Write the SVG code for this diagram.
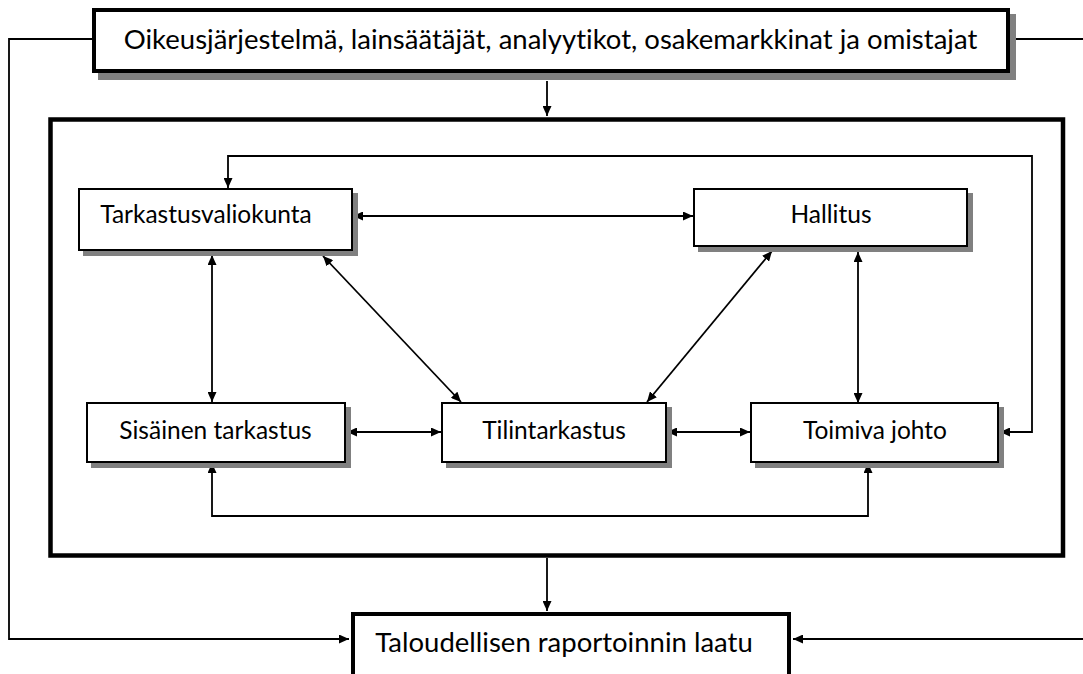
<svg xmlns="http://www.w3.org/2000/svg" width="1083" height="674" viewBox="0 0 1083 674">
<style>
text{font-family:Lato,"Liberation Sans",sans-serif;fill:#000;text-anchor:middle;font-variant-ligatures:none}
.big{font-size:27.5px}
.nd{font-size:24.5px}
.box{fill:#fff;stroke:#000;stroke-width:2}
.thick{fill:#fff;stroke:#000;stroke-width:4}
.shadow{fill:#808080}
.c{fill:none;stroke:#000;stroke-width:1.8}
</style>
<defs>
<marker id="ah" markerUnits="userSpaceOnUse" markerWidth="11" markerHeight="9" refX="10" refY="4.5" orient="auto-start-reverse">
<path d="M0,0 L10,4.5 L0,9 z" fill="#000"/>
</marker>
</defs>
<rect width="1083" height="674" fill="#fff"/>

<g id="connectors">
<path class="c" d="M92 39 H9 V639 H349" marker-end="url(#ah)"/>
<path class="c" d="M1010 39 H1088 V639 H793" marker-end="url(#ah)"/>
<path class="c" d="M547 81 V116" marker-end="url(#ah)"/>
<path class="c" d="M547 558 V611" marker-end="url(#ah)"/>
<path class="c" d="M228 188 V156 H1032 V432 H1000" marker-start="url(#ah)" marker-end="url(#ah)"/>
<path class="c" d="M353 216 H693" marker-start="url(#ah)" marker-end="url(#ah)"/>
<path class="c" d="M212 255 V402" marker-start="url(#ah)" marker-end="url(#ah)"/>
<path class="c" d="M323 256 L461 402" marker-start="url(#ah)" marker-end="url(#ah)"/>
<path class="c" d="M772 251 L647 402" marker-start="url(#ah)" marker-end="url(#ah)"/>
<path class="c" d="M858 252 V403" marker-start="url(#ah)" marker-end="url(#ah)"/>
<path class="c" d="M347 432 H441" marker-start="url(#ah)" marker-end="url(#ah)"/>
<path class="c" d="M667 432 H750" marker-start="url(#ah)" marker-end="url(#ah)"/>
<path class="c" d="M212 463 V516 H868 V463" marker-start="url(#ah)" marker-end="url(#ah)"/>
</g>

<g id="n-top">
<rect class="shadow" x="98" y="14" width="918" height="66"/>
<rect class="thick" x="94" y="10" width="914" height="61"/>
<text class="big" x="550.5" y="49">Oikeusjärjestelmä, lainsäätäjät, analyytikot, osakemarkkinat ja omistajat</text>
</g>

<g id="n-frame">
<rect x="50.5" y="119.5" width="1012.5" height="436" fill="none" stroke="#000" stroke-width="4.5"/>
</g>

<g id="n-tarkastusvaliokunta">
<rect class="shadow" x="83" y="193" width="275" height="63"/>
<rect class="box" x="79" y="189" width="273" height="61"/>
<text class="nd" x="206" y="223">Tarkastusvaliokunta</text>
</g>

<g id="n-hallitus">
<rect class="shadow" x="698" y="193" width="275" height="59"/>
<rect class="box" x="694" y="189" width="273" height="57"/>
<text class="nd" x="831" y="223">Hallitus</text>
</g>

<g id="n-sisainen">
<rect class="shadow" x="91" y="407" width="260" height="61"/>
<rect class="box" x="87" y="403" width="258" height="59"/>
<text class="nd" x="215.5" y="439">Sisäinen tarkastus</text>
</g>

<g id="n-tilintarkastus">
<rect class="shadow" x="446" y="407" width="226" height="61"/>
<rect class="box" x="442" y="403" width="224" height="59"/>
<text class="nd" x="554" y="439">Tilintarkastus</text>
</g>

<g id="n-johto">
<rect class="shadow" x="755" y="407" width="249" height="61"/>
<rect class="box" x="751" y="403" width="247" height="59"/>
<text class="nd" x="875" y="439">Toimiva johto</text>
</g>

<g id="n-laatu">
<rect class="thick" x="353" y="614" width="436" height="80"/>
<text class="big" x="564" y="652">Taloudellisen raportoinnin laatu</text>
</g>
</svg>
